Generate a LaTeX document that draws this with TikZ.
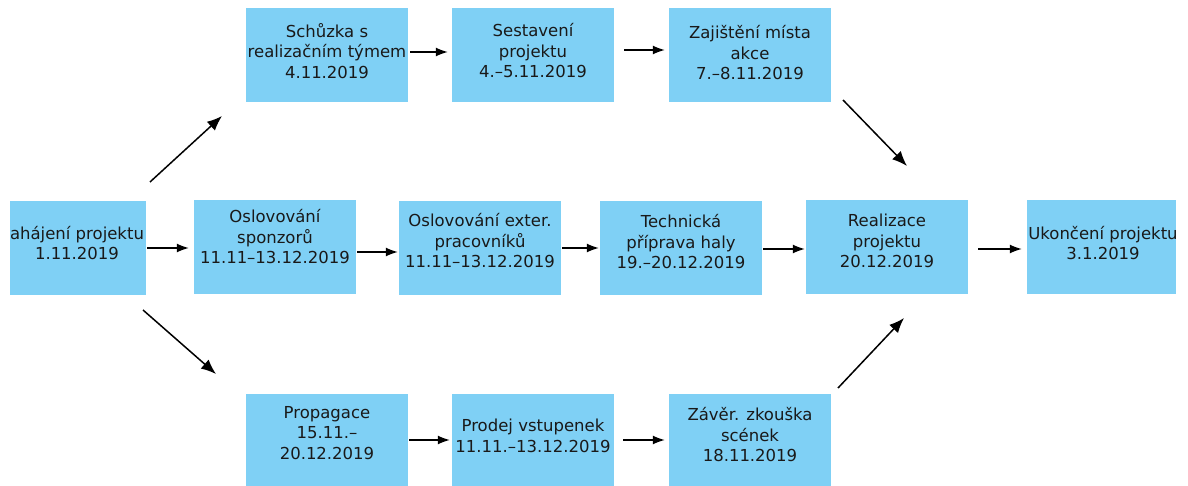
\documentclass[tikz,border=0pt]{standalone}
\usepackage{fontspec}
\setmainfont{DejaVu Sans}
\usetikzlibrary{arrows.meta}
\definecolor{boxblue}{RGB}{127,208,245}
\begin{document}
\begin{tikzpicture}[x=1pt,y=-1pt,
  box/.style={fill=boxblue, draw=none, minimum height=94pt, minimum width=162pt, inner sep=0pt},
  txt/.style={align=center, font=\fontsize{16.5}{20.5}\selectfont, inner sep=0pt, text=black!90},
  arr/.style={-{Latex[length=12pt,width=9pt]}, line width=1.3pt},
  diag/.style={-{Latex[length=15pt,width=12pt]}, line width=1.5pt}]
\useasboundingbox (0,0) rectangle (1188,486);

% top row
\node[box] (schuzka) at (327,55) {};
\node[txt] (schuzkaT) at (327,51) {Schůzka s\\realizačním týmem\\4.11.2019};
\node[box] (sestav) at (533,55) {};
\node[txt] (sestavT) at (533,51) {Sestavení\\projektu\\4.–5.11.2019};
\node[box] (zajist) at (750,55) {};
\node[txt] (zajistT) at (750,53) {Zajištění místa\\akce\\7.–8.11.2019};

% middle row
\node[box, minimum width=136pt] (start) at (78,248) {};
\node[txt] (startT) at (77,243) {ahájení projektu\\1.11.2019};
\node[box] (spons) at (275,247) {};
\node[txt] (sponsT) at (275,237) {Oslovování\\sponzorů\\11.11–13.12.2019};
\node[box] (exter) at (480,248) {};
\node[txt] (exterT) at (480,241) {Oslovování exter.\\pracovníků\\11.11–13.12.2019};
\node[box] (tech) at (681,248) {};
\node[txt] (techT) at (681,242) {Technická\\příprava haly\\19.–20.12.2019};
\node[box] (real) at (887,247) {};
\node[txt] (realT) at (887,241) {Realizace\\projektu\\20.12.2019};
\node[box, minimum width=149pt] (ukon) at (1101.5,247) {};
\node[txt] (ukonT) at (1103,243) {Ukončení projektu\\3.1.2019};

% bottom row
\node[box] (prop) at (327,441) {};
\node[txt] (propT) at (327,433) {Propagace\\15.11.–\\20.12.2019};
\node[box] (prodej) at (533,441) {};
\node[txt] (prodejT) at (533,436) {Prodej vstupenek\\11.11.–13.12.2019};
\node[box] (zaver) at (750,441) {};
\node[txt] (zaverT) at (750,435) {Závěr. zkouška\\scének\\18.11.2019};

% horizontal arrows
\draw[arr] ([shift={(2,-3)}]schuzka.east) -- ([shift={(-4,-3)}]sestav.west);
\draw[arr] ([shift={(10,-5)}]sestav.east) -- ([shift={(-4,-5)}]zajist.west);
\draw[arr] ([shift={(1,0)}]start.east) -- ([shift={(-5,1)}]spons.west);
\draw[arr] ([shift={(1,5)}]spons.east) -- ([shift={(-1,4)}]exter.west);
\draw[arr] ([shift={(1,0)}]exter.east) -- ([shift={(-1,0)}]tech.west);
\draw[arr] ([shift={(1,1)}]tech.east) -- ([shift={(-1,2)}]real.west);
\draw[arr] ([shift={(10,2)}]real.east) -- ([shift={(-5,2)}]ukon.west);
\draw[arr] ([shift={(1,-1)}]prop.east) -- ([shift={(-2,-1)}]prodej.west);
\draw[arr] ([shift={(9,-1)}]prodej.east) -- ([shift={(-4,-1)}]zaver.west);

% diagonal arrows
\coordinate (d1s) at (150,182); \coordinate (d1e) at (222,116);
\coordinate (d2s) at (843,100); \coordinate (d2e) at (907,166);
\coordinate (d3s) at (143,310); \coordinate (d3e) at (216,374);
\coordinate (d4s) at (838,388); \coordinate (d4e) at (904,318);
\draw[diag] (d1s) -- (d1e);
\draw[diag] (d2s) -- (d2e);
\draw[diag] (d3s) -- (d3e);
\draw[diag] (d4s) -- (d4e);
\end{tikzpicture}
\end{document}
